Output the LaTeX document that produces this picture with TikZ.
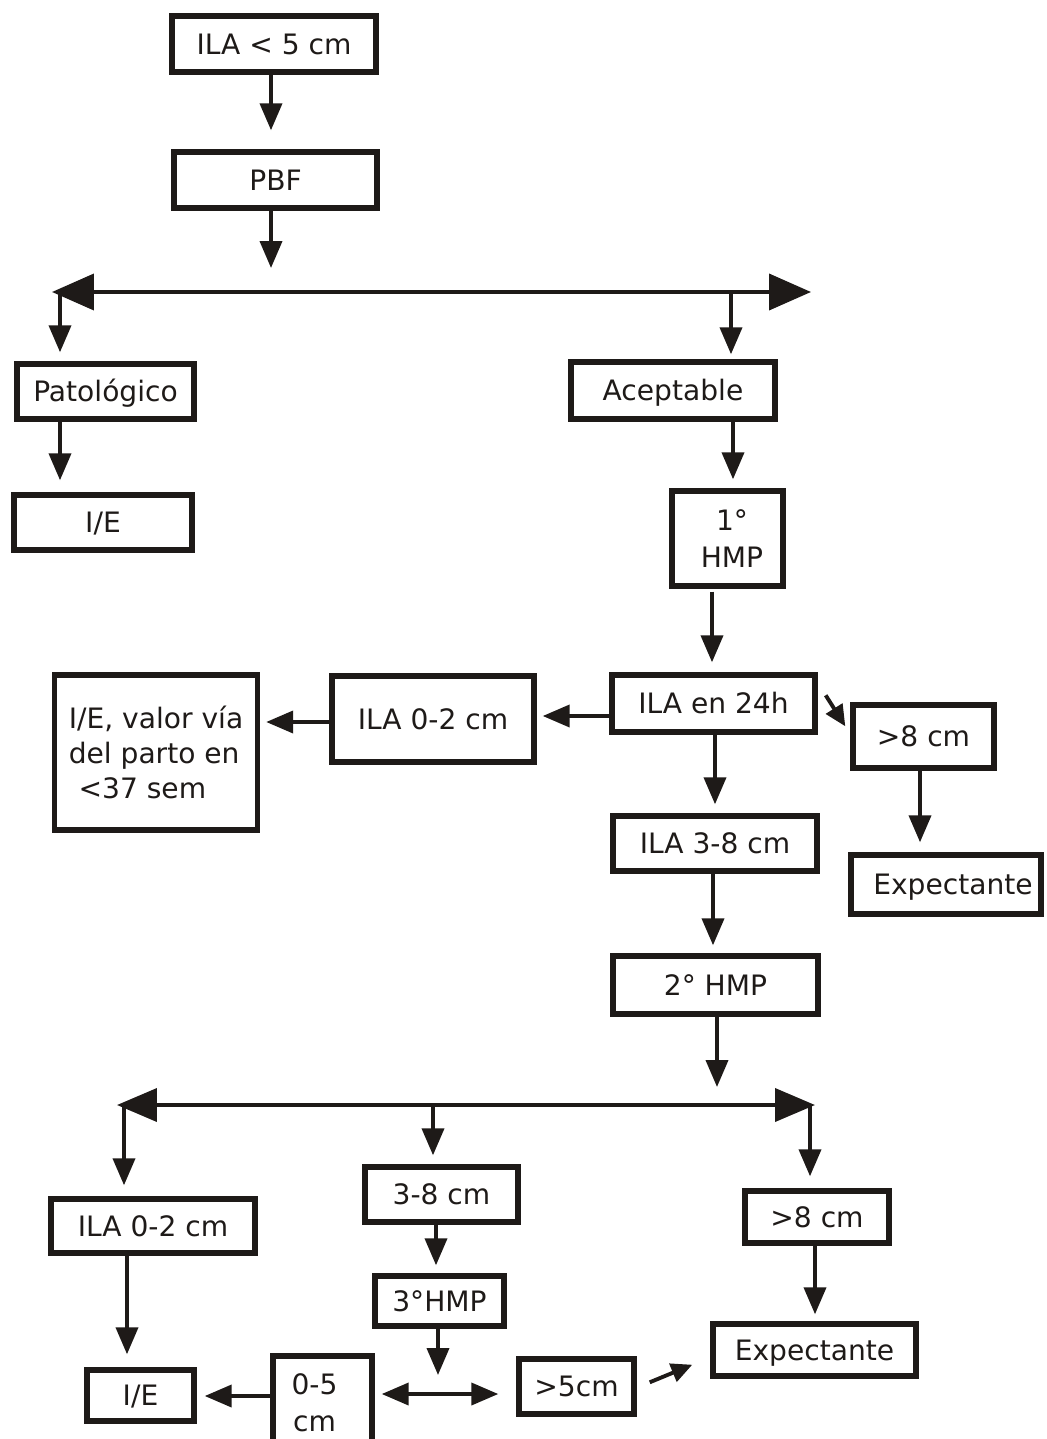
\documentclass[tikz,border=0pt]{standalone}
\usepackage{fontspec}
\setmainfont{DejaVu Sans}
\usetikzlibrary{arrows.meta,calc}
\definecolor{ink}{RGB}{30,26,24}
\begin{document}
\begin{tikzpicture}[x=0.02cm,y=-0.02cm,
  bx/.style={draw=ink, line width=3.1pt, inner sep=0pt, text=ink, font=\fontsize{16}{20.5}\selectfont, align=center},
  one/.style={bx, text height=11.7pt, text depth=0pt},
  ln/.style={draw=ink, line width=2.2pt},
  arr/.style={ln, -{Triangle[length=0.54cm,width=0.44cm]}},
  darr/.style={ln, {Triangle[length=0.54cm,width=0.44cm]}-{Triangle[length=0.54cm,width=0.44cm]}},
  sarr/.style={ln, -{Triangle[length=0.42cm,width=0.38cm]}},
  bigdarr/.style={ln, {Triangle[length=0.84cm,width=0.72cm]}-{Triangle[length=0.84cm,width=0.72cm]}},
  bigdarrb/.style={ln, {Triangle[length=0.8cm,width=0.66cm]}-{Triangle[length=0.8cm,width=0.66cm]}},
]
\useasboundingbox[fill=white] (0,0) rectangle (1046,1439);

% boxes
\node[one, minimum width=4.08cm, minimum height=1.12cm] (ila5) at (274,44) {ILA < 5 cm};
\node[one, minimum width=4.06cm, minimum height=1.12cm] (pbf) at (275.5,180) {PBF};
\node[one, minimum width=3.54cm, minimum height=1.10cm] (pat) at (105.5,391.5) {Patológico};
\node[one, minimum width=3.56cm, minimum height=1.10cm] (ie1) at (103,522.5) {I/E};
\node[one, minimum width=4.08cm, minimum height=1.14cm] (acep) at (673,390.5) {Aceptable};
\node[bx, minimum width=2.22cm, minimum height=1.90cm, font=\fontsize{16}{21}\selectfont] (hmp1) at (727.5,538.5) {\hspace*{0.18cm}1°\\\hspace*{0.18cm}HMP};
\node[one, minimum width=4.06cm, minimum height=1.14cm] (ila24) at (713.5,703.5) {ILA en 24h};
\node[one, minimum width=4.04cm, minimum height=1.72cm] (ila02a) at (433,719) {ILA 0-2 cm};
\node[bx, minimum width=4.06cm, minimum height=3.10cm, align=left, font=\fontsize{16}{20}\selectfont] (ievalor) at (156,752.5) {I/E, valor vía\\del parto en\\\hspace*{0.35em}<37 sem};
\node[one, minimum width=2.82cm, minimum height=1.26cm] (gt8a) at (923.5,736.5) {>8 cm};
\node[one, minimum width=3.80cm, minimum height=1.18cm] (expa) at (946,884.5) {\hspace*{0.28cm}Expectante};
\node[one, minimum width=4.08cm, minimum height=1.10cm] (ila38) at (715,843.5) {ILA 3-8 cm};
\node[one, minimum width=4.10cm, minimum height=1.16cm] (hmp2) at (715.5,985) {2° HMP};
\node[one, minimum width=4.08cm, minimum height=1.08cm] (ila02b) at (153,1226) {ILA 0-2 cm};
\node[one, minimum width=2.14cm, minimum height=1.02cm] (ie2) at (140.5,1395.5) {I/E};
\node[one, minimum width=3.06cm, minimum height=1.10cm] (c38) at (441.5,1194.5) {3-8 cm};
\node[one, minimum width=2.58cm, minimum height=1.00cm] (hmp3) at (439.5,1301) {3°HMP};
\node[bx, minimum width=1.98cm, minimum height=1.88cm, font=\fontsize{16}{21}\selectfont] (c05) at (322.5,1403) {0-5\hspace*{0.32cm}\\cm\hspace*{0.32cm}};
\node[one, minimum width=2.30cm, minimum height=1.10cm] (gt5) at (576.5,1386.5) {>5cm};
\node[one, minimum width=2.88cm, minimum height=1.04cm] (gt8b) at (817,1217) {>8 cm};
\node[one, minimum width=4.06cm, minimum height=1.04cm] (expb) at (814.5,1350) {Expectante};

% helper coordinates
\coordinate (j1) at (271,268);
\coordinate (L1) at (52,292);
\coordinate (R1) at (811,292);
\coordinate (b1) at (60,292);
\coordinate (b2) at (731,292);
\coordinate (x733) at (733,0);
\coordinate (x712) at (712,0);
\coordinate (y716) at (0,716);
\coordinate (y722) at (0,722);
\coordinate (x715) at (715,0);
\coordinate (x920) at (920,0);
\coordinate (x713) at (713,0);
\coordinate (j2) at (717,1087);
\coordinate (L2) at (117,1105);
\coordinate (R2) at (815,1105);
\coordinate (b3) at (124,1105);
\coordinate (b4) at (433,1105);
\coordinate (b5) at (810,1105);
\coordinate (x127) at (127,0);
\coordinate (x436) at (436,0);
\coordinate (j3) at (438,1375);
\coordinate (y1394) at (0,1394);
\coordinate (y1396) at (0,1396);
\coordinate (x815) at (815,0);

% connectors
\draw[arr, shorten >=0.38cm] (ila5.south -| j1) -- (j1 |- pbf.north);
\draw[arr] (pbf.south -| j1) -- (j1);
\draw[bigdarr] (L1) -- (R1);
\draw[arr, shorten >=0.18cm] (b1) -- (b1 |- pat.north);
\draw[arr, shorten >=0.1cm] (b2) -- (b2 |- acep.north);
\draw[arr, shorten >=0.24cm] (pat.south -| b1) -- (b1 |- ie1.north);
\draw[arr, shorten >=0.18cm] (acep.south -| x733) -- (x733 |- hmp1.north);
\draw[arr, shorten >=0.2cm, shorten <=0.06cm] (hmp1.south -| x712) -- (x712 |- ila24.north);
\draw[arr, shorten >=0.12cm] (ila24.west |- y716) -- (ila02a.east |- y716);
\draw[arr, shorten >=0.12cm] (ila02a.west |- y722) -- (ievalor.east |- y722);
\draw[sarr] ($(ila24.north east)+(8,23)$) -- ($(gt8a.north west)+(-5,24)$);
\draw[arr, shorten >=0.18cm] (ila24.south -| x715) -- (x715 |- ila38.north);
\draw[arr, shorten >=0.2cm] (gt8a.south -| x920) -- (x920 |- expa.north);
\draw[arr, shorten >=0.16cm] (ila38.south -| x713) -- (x713 |- hmp2.north);
\draw[arr] (hmp2.south -| j2) -- (j2);
\draw[bigdarrb] (L2) -- (R2);
\draw[arr, shorten >=0.22cm] (b3) -- (b3 |- ila02b.north);
\draw[arr, shorten >=0.18cm] (b4) -- (b4 |- c38.north);
\draw[arr, shorten >=0.24cm] (b5) -- (b5 |- gt8b.north);
\draw[arr, shorten >=0.26cm] (ila02b.south -| x127) -- (x127 |- ie2.north);
\draw[arr, shorten >=0.16cm] (c38.south -| x436) -- (x436 |- hmp3.north);
\draw[arr] (hmp3.south -| j3) -- (j3);
\draw[darr, shorten <=0.14cm, shorten >=0.36cm] (c05.east |- y1394) -- (gt5.west |- y1394);
\draw[arr, shorten >=0.16cm] (c05.west |- y1396) -- (ie2.east |- y1396);
\draw[sarr] ($(gt5.north east)+(13,26)$) -- ($(expb.south west)+(-18,-14)$);
\draw[arr, shorten >=0.14cm] (gt8b.south -| x815) -- (x815 |- expb.north);
\end{tikzpicture}
\end{document}
